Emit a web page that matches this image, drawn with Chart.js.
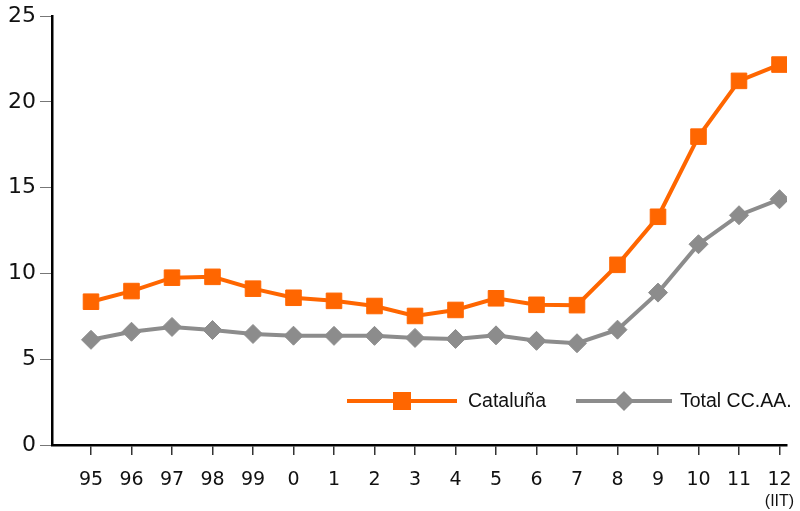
<!DOCTYPE html>
<html>
<head>
<meta charset="utf-8">
<script src="https://cdn.jsdelivr.net/npm/chart.js@4/dist/chart.umd.min.js"></script>
<style>
  html, body { margin: 0; padding: 0; background: #fff; }
  #wrap { width: 800px; height: 511px; position: relative; }
</style>
</head>
<body>
<div id="wrap"><canvas id="c"></canvas></div>
<script>
// Años (el último corresponde al segundo trimestre)
const years = ['95', '96', '97', '98', '99', '0', '1', '2', '3', '4', '5', '6', '7', '8', '9', '10', '11', '12'];
const yearNotes = ['', '', '', '', '', '', '', '', '', '', '', '', '', '', '', '', '', '(IIT)'];

const cataluna = [8.35, 8.97, 9.75, 9.8, 9.11, 8.58, 8.4, 8.1, 7.52, 7.87, 8.55, 8.17, 8.15, 10.5, 13.3, 17.97, 21.22, 22.17];
const totalCCAA = [6.13, 6.6, 6.88, 6.7, 6.47, 6.37, 6.36, 6.36, 6.24, 6.18, 6.39, 6.07, 5.93, 6.72, 8.88, 11.7, 13.39, 14.32];

const yTicks = [0, 5, 10, 15, 20, 25];

const seriesNames = ['Cataluña', 'Total CC.AA.'];
const ORANGE = '#ff6600';
const GREY = '#8c8c8c';
const TEXT = '#111';

const toPoints = arr => arr.map((v, i) => ({ x: i, y: v }));

// Leyenda con línea y marcador, dibujada dentro del área del gráfico
const lineLegend = {
  id: 'lineLegend',
  afterDraw(chart) {
    const { ctx, chartArea } = chart;
    const y = chartArea.bottom - 44;
    const items = [
      { name: seriesNames[0], color: ORANGE, style: 'rect', x0: chartArea.left + 295, x1: chartArea.left + 405, gap: 11 },
      { name: seriesNames[1], color: GREY, style: 'rectRot', x0: chartArea.left + 524, x1: chartArea.left + 620, gap: 8 }
    ];
    ctx.save();
    items.forEach(it => {
      ctx.strokeStyle = it.color;
      ctx.lineWidth = 4;
      ctx.beginPath();
      ctx.moveTo(it.x0, y);
      ctx.lineTo(it.x1, y);
      ctx.stroke();
      const cx = (it.x0 + it.x1) / 2;
      ctx.fillStyle = it.color;
      if (it.style === 'rect') {
        ctx.fillRect(cx - 9, y - 9, 18, 18);
      } else {
        ctx.beginPath();
        ctx.moveTo(cx, y - 10);
        ctx.lineTo(cx + 10, y);
        ctx.lineTo(cx, y + 10);
        ctx.lineTo(cx - 10, y);
        ctx.closePath();
        ctx.fill();
      }
      ctx.fillStyle = TEXT;
      ctx.font = '19.5px "Liberation Sans", Arial, sans-serif';
      ctx.textAlign = 'left';
      ctx.textBaseline = 'middle';
      ctx.fillText(it.name, it.x1 + it.gap, y + 1);
    });
    ctx.restore();
  }
};

// Nota bajo la etiqueta del último año
const yearNote = {
  id: 'yearNote',
  afterDraw(chart) {
    const { ctx } = chart;
    const xs = chart.scales.x;
    ctx.save();
    ctx.fillStyle = TEXT;
    ctx.font = '16px "Liberation Sans", Arial, sans-serif';
    ctx.textAlign = 'center';
    ctx.textBaseline = 'middle';
    yearNotes.forEach((n, i) => {
      if (n) ctx.fillText(n, xs.getPixelForValue(i), 502);
    });
    ctx.restore();
  }
};

new Chart(document.getElementById('c'), {
  type: 'line',
  data: {
    datasets: [
      {
        label: seriesNames[0],
        data: toPoints(cataluna),
        borderColor: ORANGE,
        backgroundColor: ORANGE,
        borderWidth: 4,
        pointStyle: 'rect',
        pointRadius: 11,
        pointBorderWidth: 1,
        pointBorderColor: ORANGE,
        pointBackgroundColor: ORANGE,
        tension: 0
      },
      {
        label: seriesNames[1],
        data: toPoints(totalCCAA),
        borderColor: GREY,
        backgroundColor: GREY,
        borderWidth: 4,
        pointStyle: 'rectRot',
        pointRadius: 9.5,
        pointBorderWidth: 1,
        pointBorderColor: GREY,
        pointBackgroundColor: GREY,
        tension: 0
      }
    ]
  },
  options: {
    responsive: true,
    maintainAspectRatio: false,
    animation: false,
    layout: { padding: { top: 16, right: 13, bottom: 0, left: 0 } },
    plugins: { legend: { display: false }, tooltip: { enabled: false } },
    scales: {
      x: {
        type: 'linear',
        min: -0.963,
        max: 17.185,
        afterBuildTicks: s => { s.ticks = years.map((_, i) => ({ value: i })); },
        afterFit: s => { s.height = 66; s.paddingLeft = 0; s.paddingRight = 0; },
        ticks: {
          autoSkip: false,
          maxRotation: 0,
          padding: 14,
          color: TEXT,
          font: { family: '"DejaVu Sans", sans-serif', size: 19 },
          callback: v => years[v]
        },
        grid: { drawOnChartArea: false, drawTicks: true, tickLength: 10, color: '#333', lineWidth: 1.5 },
        border: { display: true, color: '#000', width: 2.5 }
      },
      y: {
        min: 0,
        max: 25,
        afterBuildTicks: s => { s.ticks = yTicks.map(v => ({ value: v })); },
        afterFit: s => { s.width = 52; s.paddingTop = 0; s.paddingBottom = 0; },
        ticks: {
          padding: 4,
          color: TEXT,
          font: { family: '"DejaVu Sans", sans-serif', size: 22 }
        },
        grid: { drawOnChartArea: false, drawTicks: true, tickLength: 12, color: '#777', lineWidth: 1 },
        border: { display: true, color: '#000', width: 2.5 }
      }
    }
  },
  plugins: [lineLegend, yearNote]
});
</script>
</body>
</html>
